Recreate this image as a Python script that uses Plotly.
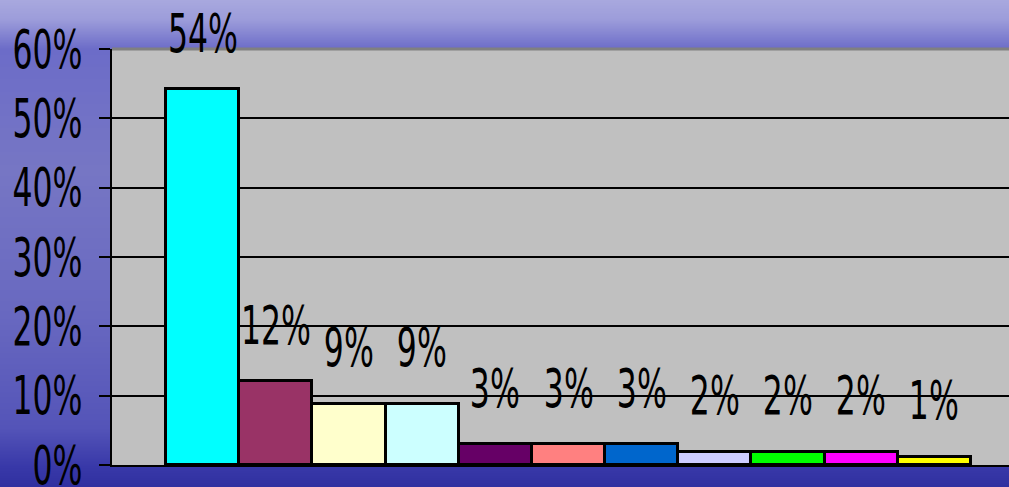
import base64
import struct
import zlib

import plotly.graph_objects as go

# Data
categories = list(range(11))
shares = [54.2, 12.1, 8.8, 8.8, 3.0, 3.0, 3.0, 1.9, 1.9, 1.9, 1.2]
share_labels = ["54%", "12%", "9%", "9%", "3%", "3%", "3%", "2%", "2%", "2%", "1%"]
bar_colors = ["#00FFFF", "#993366", "#FFFFCC", "#CCFFFF", "#660066", "#FF8080",
              "#0066CC", "#CCCCFF", "#00FF00", "#FF00FF", "#FFFF00"]
y_ticks = [0, 10, 20, 30, 40, 50, 60]
y_tick_labels = ["0%", "10%", "20%", "30%", "40%", "50%", "60%"]

W, H = 1009, 487
M_L, M_R, M_T, M_B = 112, 0, 49, 22
FONT = "DejaVu Sans Condensed, DejaVu Sans, sans-serif"
FONT_SIZE = 53


def gradient_png(stops, height):
    """Build a 1px wide vertical gradient PNG as a data URI."""
    rows = b""
    for y in range(height):
        t = y / (height - 1)
        for (t0, c0), (t1, c1) in zip(stops, stops[1:]):
            if t0 <= t <= t1:
                f = (t - t0) / (t1 - t0) if t1 > t0 else 0
                rgb = [round(a + (b - a) * f) for a, b in zip(c0, c1)]
                break
        rows += b"\x00" + bytes(rgb)

    def chunk(tag, data):
        c = struct.pack(">I", len(data)) + tag + data
        return c + struct.pack(">I", zlib.crc32(tag + data) & 0xFFFFFFFF)

    png = b"\x89PNG\r\n\x1a\n"
    png += chunk(b"IHDR", struct.pack(">IIBBBBB", 1, height, 8, 2, 0, 0, 0))
    png += chunk(b"IDAT", zlib.compress(rows))
    png += chunk(b"IEND", b"")
    return "data:image/png;base64," + base64.b64encode(png).decode()


bg = gradient_png([
    (0.00, (168, 168, 222)),
    (0.04, (156, 156, 218)),
    (0.10, (108, 108, 200)),
    (0.35, (118, 118, 196)),
    (0.65, (104, 104, 192)),
    (0.88, (84, 84, 184)),
    (0.96, (56, 56, 168)),
    (1.00, (48, 48, 160)),
], H)

fig = go.Figure()

fig.add_trace(go.Bar(
    x=categories,
    y=shares,
    width=1,
    marker=dict(color=bar_colors, line=dict(color="black", width=3)),
    hoverinfo="skip",
))

# value labels floating above each bar
for x, y, label in zip(categories, shares, share_labels):
    fig.add_annotation(
        x=x, y=y, text=label, showarrow=False,
        yanchor="middle", yshift=56,
        font=dict(family=FONT, size=FONT_SIZE, color="black"),
    )

pw = W - M_L - M_R
ph = H - M_T - M_B

fig.add_layout_image(
    source=bg, xref="paper", yref="paper",
    x=-M_L / pw, y=1 + M_T / ph, sizex=W / pw, sizey=H / ph,
    xanchor="left", yanchor="top", sizing="stretch", layer="below",
)

# gray plot area and its top border
fig.add_shape(type="rect", xref="paper", yref="paper", x0=0, x1=1, y0=0, y1=1,
              fillcolor="#C0C0C0", line=dict(width=0), layer="below")
fig.add_shape(type="line", xref="paper", yref="paper", x0=0, x1=1, y0=1, y1=1,
              line=dict(color="#808080", width=3), layer="below")

fig.update_layout(
    width=W, height=H,
    margin=dict(l=M_L, r=M_R, t=M_T, b=M_B, autoexpand=False),
    paper_bgcolor="#6A6AC4",
    plot_bgcolor="rgba(0,0,0,0)",
    showlegend=False,
    bargap=0,
    xaxis=dict(
        range=[-1.24, 11.02], showticklabels=False, showgrid=False,
        zeroline=False, showline=True, linecolor="black", linewidth=2,
        fixedrange=True, automargin=False,
    ),
    yaxis=dict(
        range=[0, 60], tickvals=y_ticks, ticktext=y_tick_labels,
        showgrid=True, gridcolor="black", gridwidth=2, zeroline=False,
        showline=True, linecolor="black", linewidth=2,
        ticks="outside", ticklen=11, tickwidth=2, tickcolor="black",
        ticklabelstandoff=6, ticklabeloverflow="allow",
        tickfont=dict(family=FONT, size=FONT_SIZE, color="black"),
        fixedrange=True, automargin=False,
    ),
)

# no page margin, and squeeze the text horizontally like the original
post = """
document.body.style.margin = '0';
document.body.style.overflow = 'hidden';
var gd = document.getElementById('{plot_id}');
function squeeze() {
  gd.querySelectorAll('text.annotation-text, .ytick text').forEach(function (t) {
    var cur = t.getAttribute('transform') || '';
    if (t.dataset.sq && cur === t.dataset.sq) return;
    var x = parseFloat(t.getAttribute('x')) || 0;
    var tr = cur + ' translate(' + x + ',0) scale(0.66,1) translate(' + (-x) + ',0)';
    t.setAttribute('transform', tr);
    t.dataset.sq = tr;
  });
}
squeeze();
gd.on('plotly_afterplot', squeeze);
setTimeout(squeeze, 50);
"""

fig.write_html("out.html", post_script=post, config={"displayModeBar": False})
